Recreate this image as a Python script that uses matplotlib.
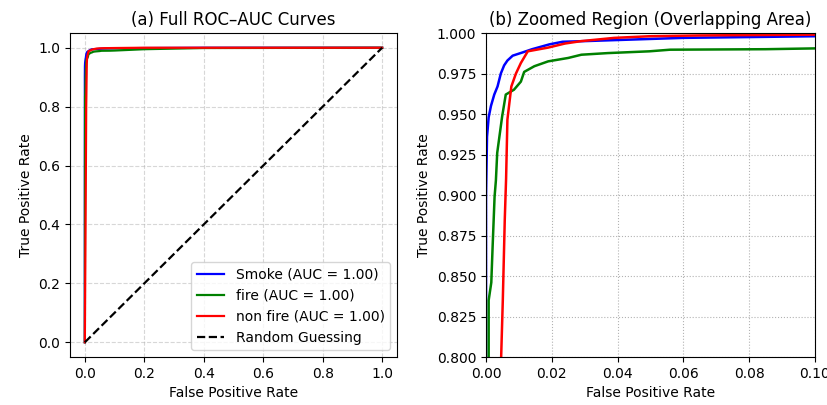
import matplotlib
matplotlib.use("Agg")
import numpy as np
from matplotlib import pyplot as plt

# ROC points (fpr, tpr)
smoke_fpr = [0.0, 0.0, 0.0003, 0.0008, 0.0015, 0.0025, 0.0035, 0.0045, 0.0055,
             0.0065, 0.0081, 0.0111, 0.014, 0.0193, 0.0233, 0.03, 0.045, 0.06,
             0.08, 0.1, 0.2, 0.4, 1.0]
smoke_tpr = [0.0, 0.90, 0.936, 0.948, 0.955, 0.962, 0.967, 0.975, 0.980,
             0.983, 0.986, 0.988, 0.990, 0.993, 0.9946, 0.995, 0.996, 0.997,
             0.9975, 0.998, 0.999, 1.0, 1.0]

fire_fpr = [0.0, 0.0005, 0.0008, 0.0008, 0.0016, 0.002, 0.0026, 0.003, 0.0034,
            0.0049, 0.006, 0.0085, 0.0106, 0.0116, 0.0147, 0.0189, 0.025,
            0.029, 0.037, 0.0497, 0.056, 0.085, 0.1, 0.2, 0.4, 1.0]
fire_tpr = [0.0, 0.6, 0.80, 0.835, 0.846, 0.868, 0.899, 0.909, 0.926,
            0.9485, 0.962, 0.965, 0.970, 0.976, 0.9795, 0.9825, 0.9846,
            0.9866, 0.9876, 0.9887, 0.9897, 0.990, 0.9905, 0.995, 0.999, 1.0]

nonfire_fpr = [0.0, 0.003, 0.0046, 0.0051, 0.0057, 0.0061, 0.0065, 0.0077,
               0.0091, 0.0106, 0.0127, 0.0189, 0.024, 0.029, 0.039, 0.0497,
               0.065, 0.1, 0.2, 1.0]
nonfire_tpr = [0.0, 0.5, 0.80, 0.835, 0.885, 0.910, 0.9465, 0.967,
               0.975, 0.9815, 0.9887, 0.991, 0.9935, 0.995, 0.997, 0.998,
               0.9985, 0.999, 1.0, 1.0]

labels = ["Smoke (AUC = 1.00)", "fire (AUC = 1.00)", "non fire (AUC = 1.00)"]
colors = ["blue", "green", "red"]


def main():
    curves = [(smoke_fpr, smoke_tpr), (fire_fpr, fire_tpr), (nonfire_fpr, nonfire_tpr)]

    fig = plt.figure(figsize=(8.28, 4.05), dpi=100)
    ax1 = fig.add_axes([0.0845, 0.1185, 0.395, 0.80])
    ax2 = fig.add_axes([0.587, 0.1185, 0.397, 0.80])

    for (f, t), lab, c in zip(curves, labels, colors):
        ax1.plot(f, t, color=c, lw=1.6, label=lab)
    ax1.plot([0, 1], [0, 1], "k--", lw=1.6, label="Random Guessing")
    ax1.set_title("(a) Full ROC\u2013AUC Curves", fontsize=12)
    ax1.set_xlabel("False Positive Rate")
    ax1.set_ylabel("True Positive Rate")
    ax1.grid(True, linestyle="--", alpha=0.5)
    ax1.legend(loc="lower right", fontsize=10)

    for (f, t), c in zip(curves, colors):
        ax2.plot(f, t, color=c, lw=1.8)
    ax2.set_xlim(0, 0.1)
    ax2.set_ylim(0.8, 1.0)
    ax2.set_title("(b) Zoomed Region (Overlapping Area)", fontsize=12)
    ax2.set_xlabel("False Positive Rate")
    ax2.set_ylabel("True Positive Rate")
    ax2.grid(True, linestyle=":", color="gray", alpha=0.6)

    fig.savefig("out.png", dpi=100)


if __name__ == '__main__':
    main()
